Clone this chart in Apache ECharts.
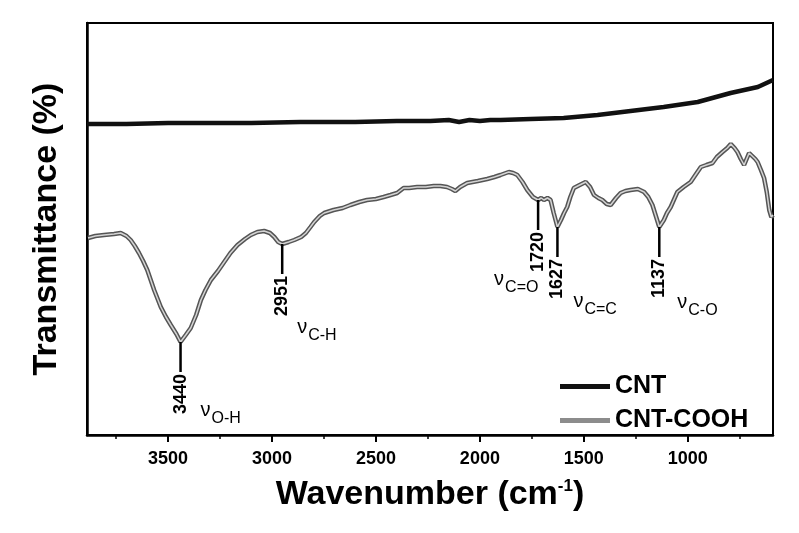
<!DOCTYPE html>
<html><head><meta charset="utf-8">
<script src="https://cdn.jsdelivr.net/npm/echarts@6/dist/echarts.min.js"></script>
<style>html,body{margin:0;padding:0;background:#fff}#c{width:799px;height:533px}</style>
</head><body><div id="c"></div>
<script>
// ---- data ----
const cntWn = [3890, 3700, 3500, 3346, 3100, 2864, 2600, 2400, 2238, 2150, 2100, 2050, 2000, 1950, 1900, 1756, 1597, 1434, 1275, 1116, 952, 794, 663, 590];
const cntT  = [311, 311, 312, 312, 312, 313, 313, 314, 314, 315, 313, 315, 314, 315, 315, 316, 317, 320, 324, 328, 333, 342, 348, 355];

const coohWn = [3885,3850,3808,3760,3728,3700,3680,3660,3640,3620,3600,3567,3535,3510,3487,3460,3440,3415,3391,3365,3342,3320,3294,3260,3230,3200,3166,3130,3102,3070,3038,3010,2989,2970,2951,2920,2893,2860,2837,2815,2797,2770,2749,2704,2660,2623,2580,2543,2500,2463,2430,2398,2367,2340,2302,2260,2222,2190,2158,2135,2118,2095,2061,2010,1965,1930,1901,1861,1840,1820,1795,1772,1745,1720,1705,1692,1675,1660,1645,1627,1610,1595,1580,1565,1548,1520,1491,1470,1451,1430,1411,1390,1371,1345,1323,1300,1275,1240,1210,1190,1170,1155,1137,1115,1100,1082,1065,1050,1020,986,960,937,910,881,860,833,810,793,775,761,745,729,717,705,690,675,664,648,633,620,608,598,590];
const coohT  = [197,199,200,201,202,199,195,189,182,174,165,145,128,118,110,101,93,100,107,120,135,145,155,164,173,182,190,196,200,203,204,202,198,193,191,193,195,198,202,208,213,219,222,225,227,230,233,235,236,238,240,242,247,247,248,248,249,249,248,246,244,248,252,254,256,258,260,263,262,260,253,245,238,235,237,235,237,235,222,208,215,222,228,238,247,250,253,248,240,237,235,231,230,237,242,244,245,246,243,238,230,220,208,215,222,228,236,243,248,253,261,268,270,272,278,283,287,291,287,283,276,270,276,282,279,276,273,265,257,243,225,218,220];

const majorTicks = [1000, 1500, 2000, 2500, 3000, 3500];
const minorTicks = [750, 1250, 1750, 2250, 2750, 3250, 3750];

const peakWn   = [3440, 2951, 1720, 1627, 1137];
const peakText = ['3440', '2951', '1720', '1627', '1137'];
const bondSub  = ['O-H', 'C-H', 'C=O', 'C=C', 'C-O'];

// ---- layout (not data) ----
const nuOffsets = [[20, 68], [15, 83], [-44, 79], [16, 74], [18, 75]];
const FF = "'Liberation Sans', Arial, Helvetica, sans-serif";
const X_MIN = 590, X_MAX = 3890;

const zip = (a, b) => a.map((v, i) => [v, b[i]]);

const chart = echarts.init(document.getElementById('c'), null, {renderer: 'canvas'});
const option = {
  animation: false,
  backgroundColor: '#fff',
  grid: {left: 87, right: 26, top: 23, bottom: 98, show: true, borderColor: '#000', borderWidth: 2, backgroundColor: 'transparent'},
  legend: {
    orient: 'vertical', left: 555, top: 369, itemWidth: 50, itemHeight: 5, itemGap: 9, icon: 'rect',
    textStyle: {fontSize: 25, fontWeight: 'bold', fontFamily: FF, color: '#000', lineHeight: 25},
    data: [{name: 'CNT', itemStyle: {color: '#111'}}, {name: 'CNT-COOH', itemStyle: {color: '#8c8c8c'}}]
  },
  xAxis: [{
    type: 'value', min: X_MIN, max: X_MAX, inverse: true, position: 'bottom',
    axisLine: {show: true, onZero: false, lineStyle: {color: '#000', width: 2.5}},
    axisTick: {show: true, customValues: majorTicks, length: 7, inside: false, lineStyle: {color: '#000', width: 2}},
    axisLabel: {show: true, customValues: majorTicks, formatter: v => String(v), margin: 15, fontSize: 18, fontWeight: 'bold', fontFamily: FF, color: '#000'},
    splitLine: {show: false},
    name: 'Wavenumber (cm{sup|-1})', nameLocation: 'middle', nameGap: 43,
    nameTextStyle: {fontSize: 34, fontWeight: 'bold', fontFamily: FF, color: '#000',
      rich: {sup: {fontSize: 17, fontWeight: 'bold', fontFamily: FF, color: '#000', verticalAlign: 'top'}}}
  }, {
    type: 'value', min: X_MIN, max: X_MAX, inverse: true, position: 'bottom',
    axisLine: {show: false},
    axisTick: {show: true, customValues: minorTicks, length: 4, inside: false, lineStyle: {color: '#000', width: 1.5}},
    axisLabel: {show: false}, splitLine: {show: false}
  }],
  yAxis: {
    type: 'value', min: 0, max: 412,
    axisLine: {show: true, onZero: false, lineStyle: {color: '#000', width: 2.5}},
    axisTick: {show: false}, axisLabel: {show: false}, splitLine: {show: false},
    name: 'Transmittance (%)', nameLocation: 'middle', nameGap: 23,
    nameTextStyle: {fontSize: 34, fontWeight: 'bold', fontFamily: FF, color: '#000'}
  },
  series: [
    {name: 'CNT', type: 'line', data: zip(cntWn, cntT), showSymbol: false, symbol: 'none',
     lineStyle: {color: '#111', width: 4.5}, itemStyle: {color: '#111'}},
    {name: 'CNT-COOH', type: 'line', data: zip(coohWn, coohT), showSymbol: false, symbol: 'none',
     lineStyle: {color: '#555', width: 4.5}, itemStyle: {color: '#8c8c8c'}},
    {name: 'CNT-COOH core', type: 'line', data: zip(coohWn, coohT), showSymbol: false, symbol: 'none', silent: true,
     lineStyle: {color: '#d4d4d4', width: 1.5}, itemStyle: {color: '#d4d4d4'}}
  ]
};
chart.setOption(option);

const g = [];
peakWn.forEach((wn, i) => {
  const idx = coohWn.indexOf(wn);
  const p = chart.convertToPixel({seriesIndex: 1}, [wn, coohT[idx]]);
  const x = p[0], y = p[1];
  const len = 30;
  g.push({type: 'line', z: 100, shape: {x1: x, y1: y, x2: x, y2: y + len}, style: {stroke: '#000', lineWidth: 2.5}});
  g.push({type: 'text', z: 100, x: x, y: y + len + 2, rotation: Math.PI / 2,
    style: {text: peakText[i], font: 'bold 18px ' + FF, fill: '#000', align: 'right', verticalAlign: 'middle'}});
  const o = nuOffsets[i];
  g.push({type: 'text', z: 100, x: x + o[0], y: y + o[1],
    style: {text: 'ν', font: '20px ' + FF, fill: '#000', align: 'left', verticalAlign: 'middle'}});
  g.push({type: 'text', z: 100, x: x + o[0] + 11, y: y + o[1] + 9,
    style: {text: bondSub[i], font: '16px ' + FF, fill: '#000', align: 'left', verticalAlign: 'middle'}});
});
chart.setOption({graphic: g});
</script>
</body></html>
